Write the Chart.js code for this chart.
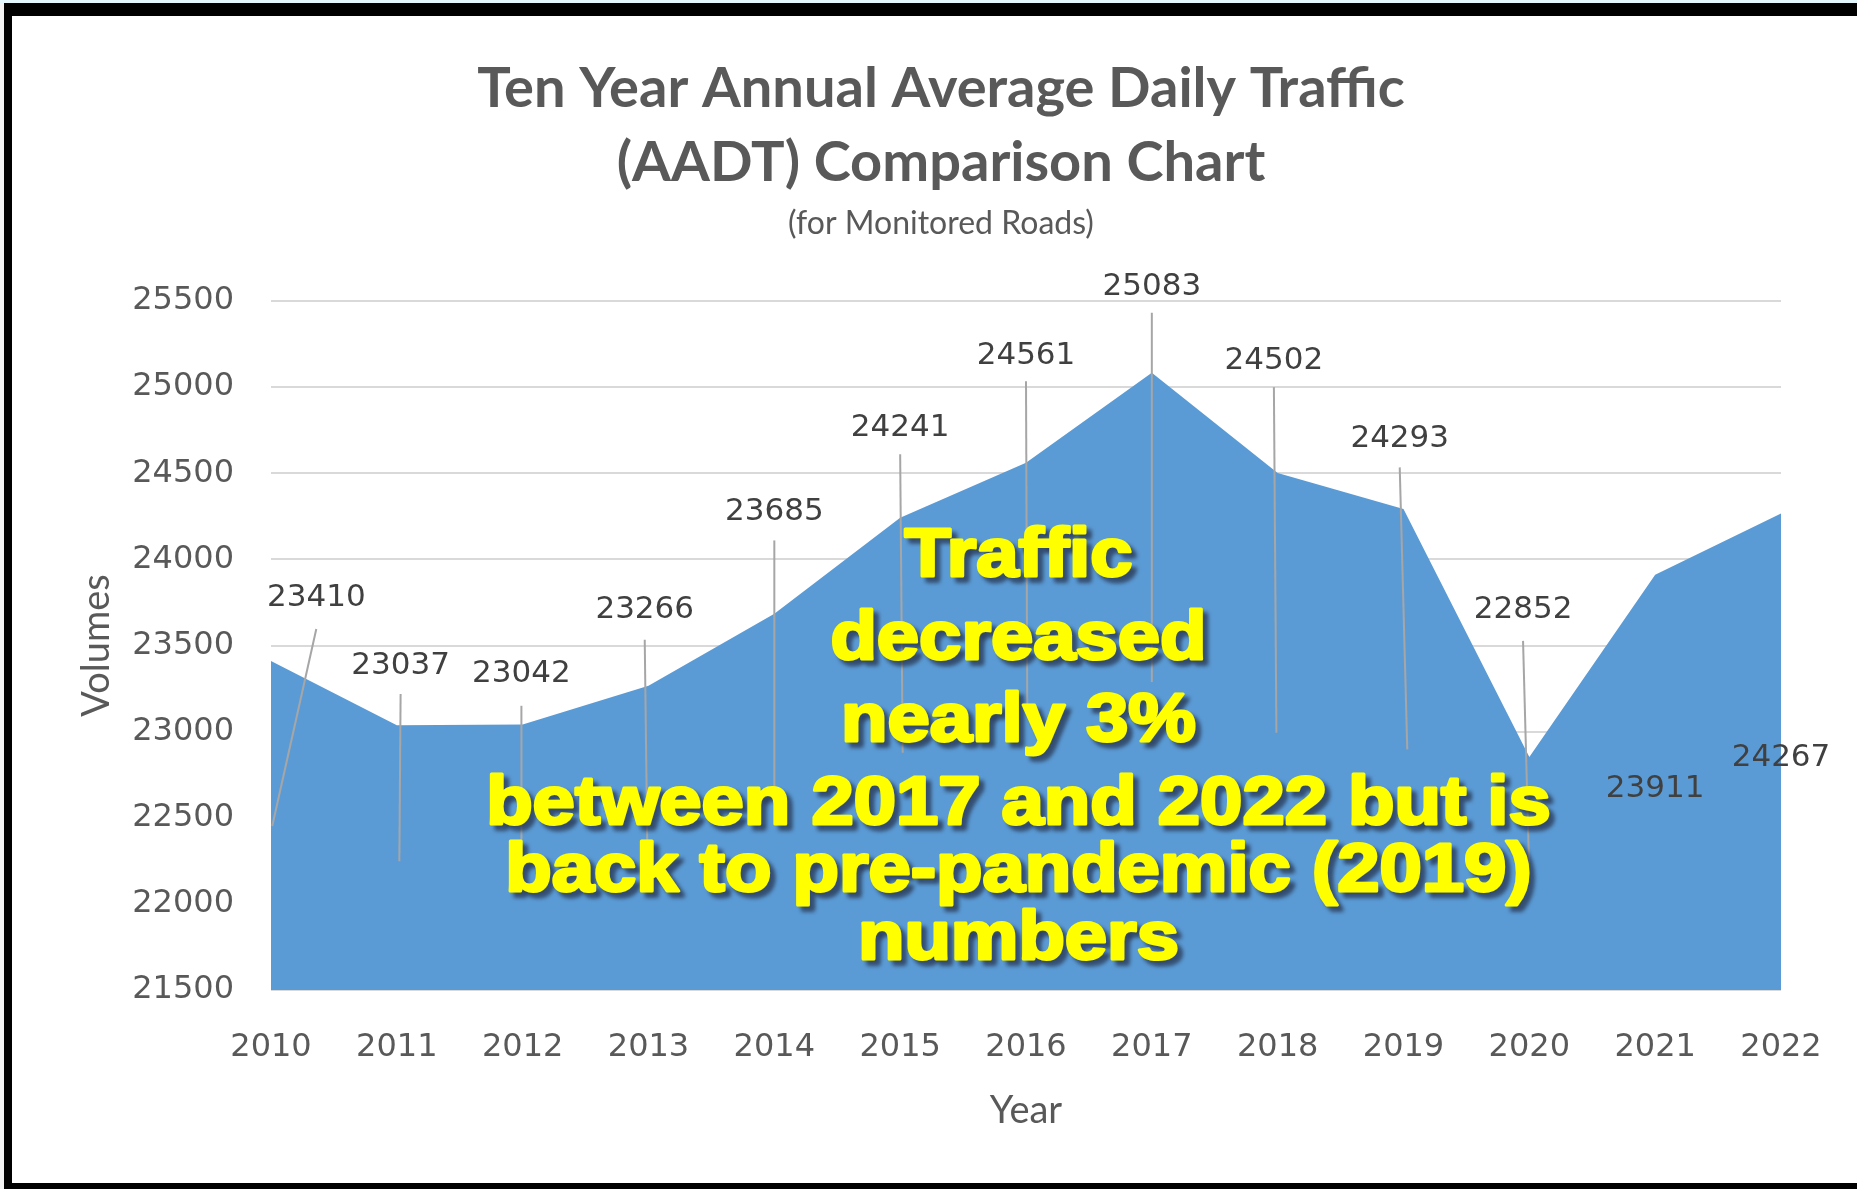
<!DOCTYPE html>
<html>
<head>
<meta charset="utf-8">
<script src="https://cdn.jsdelivr.net/npm/chart.js@4/dist/chart.umd.min.js"></script>
<style>
  html, body { margin: 0; padding: 0; background: #000; width: 1857px; height: 1189px; overflow: hidden; }
  .strip-top { position: absolute; left: 0; top: 0; width: 1857px; height: 3px; background: #e3f6fb; }
  .strip-left { position: absolute; left: 0; top: 3px; width: 4px; height: 1186px; background: #f2f2f2; }
  .panel { position: absolute; left: 12px; top: 16px; width: 1845px; height: 1167px; background: #fff; }
</style>
</head>
<body>
<div class="strip-top"></div>
<div class="strip-left"></div>
<div class="panel"><canvas id="aadtChart" width="1845" height="1167"></canvas></div>
<script>
// Data
const years = ["2010", "2011", "2012", "2013", "2014", "2015", "2016", "2017", "2018", "2019", "2020", "2021", "2022"];
const aadt = [23410, 23037, 23042, 23266, 23685, 24241, 24561, 25083, 24502, 24293, 22852, 23911, 24267];
const yTicks = [21500, 22000, 22500, 23000, 23500, 24000, 24500, 25000, 25500];

// Where Excel left the (moved) data labels, in axis units: category index / volume
const labelIdx = [0.36, 1.03, 1.99, 2.97, 4.0, 5.0, 6.0, 7.0, 7.97, 8.97, 9.95, 11.0, 12.0];
const labelVal = [23774, 23384, 23336, 23706, 24275, 24761, 25179, 25583, 25151, 24699, 23706, 22665, 22850];

// leader lines: [fromIdx, fromVal, toIdx, toVal], null where there is none
const leaders = [
  [0.36, 23596, 0.01, 22452],
  [1.03, 23219, 1.02, 22247],
  [1.99, 23150, 1.99, 22370],
  [2.97, 23534, 2.99, 22370],
  [4.0, 24110, 4.0, 22671],
  [5.0, 24610, 5.02, 22877],
  [6.0, 25034, 6.01, 23151],
  [7.0, 25432, 7.0, 23288],
  [7.97, 25000, 7.99, 22993],
  [8.97, 24534, 9.03, 22897],
  [9.95, 23527, 10.0, 22165],
  null,
  null,
];

// Callout text over the area
const noteLines = ["Traffic", "decreased", "nearly 3%", "between 2017 and 2022 but is", "back to pre-pandemic (2019)", "numbers"];
const noteVals = [24010, 23531, 23057, 22571, 22184, 21791];
const noteIdx = 5.94;

const labelPlugin = {
  id: "labelPlugin",
  afterDatasetsDraw(chart) {
    const ctx = chart.ctx;
    const xs = chart.scales.x;
    const ys = chart.scales.y;
    const px = (i) => xs.left + (xs.right - xs.left) * i / (years.length - 1);

    // leader lines
    ctx.save();
    ctx.strokeStyle = "#a6a6a6";
    ctx.lineWidth = 2;
    leaders.forEach((l) => {
      if (!l) return;
      ctx.beginPath();
      ctx.moveTo(px(l[0]), ys.getPixelForValue(l[1]));
      ctx.lineTo(px(l[2]), ys.getPixelForValue(l[3]));
      ctx.stroke();
    });
    ctx.restore();

    // data labels
    ctx.save();
    ctx.font = "31px 'DejaVu Sans'";
    ctx.fillStyle = "#404040";
    ctx.textAlign = "center";
    ctx.textBaseline = "middle";
    aadt.forEach((v, i) => {
      ctx.fillText(String(v), px(labelIdx[i]), ys.getPixelForValue(labelVal[i]));
    });
    ctx.restore();

    // yellow callout: shadow pass, then the text itself
    ctx.save();
    ctx.font = "bold 68px 'Liberation Sans'";
    const widest = Math.max(...noteLines.map((t) => ctx.measureText(t).width));
    const stretch = ((xs.right - xs.left) * 0.705) / widest;
    ctx.textAlign = "center";
    ctx.textBaseline = "middle";
    ctx.lineJoin = "round";
    ctx.lineWidth = 3;
    noteLines.forEach((t, i) => {
      const cx = px(noteIdx);
      const cy = ys.getPixelForValue(noteVals[i]);
      ctx.save();
      ctx.translate(cx + 5, cy + 5);
      ctx.scale(stretch, 1);
      ctx.filter = "blur(2px)";
      ctx.fillStyle = "rgba(35, 45, 70, 0.7)";
      ctx.strokeStyle = "rgba(35, 45, 70, 0.7)";
      ctx.strokeText(t, 0, 0);
      ctx.fillText(t, 0, 0);
      ctx.restore();
    });
    noteLines.forEach((t, i) => {
      const cx = px(noteIdx);
      const cy = ys.getPixelForValue(noteVals[i]);
      ctx.save();
      ctx.translate(cx, cy);
      ctx.scale(stretch, 1);
      ctx.fillStyle = "#ffff00";
      ctx.strokeStyle = "#ffff00";
      ctx.strokeText(t, 0, 0);
      ctx.fillText(t, 0, 0);
      ctx.restore();
    });
    ctx.restore();
  },
};

const ctx = document.getElementById("aadtChart").getContext("2d");
new Chart(ctx, {
  type: "line",
  data: {
    labels: years,
    datasets: [
      {
        label: "AADT",
        data: aadt,
        backgroundColor: "#5b9bd5",
        borderColor: "#5b9bd5",
        borderWidth: 0,
        pointRadius: 0,
        fill: "start",
        tension: 0,
      },
    ],
  },
  options: {
    responsive: false,
    animation: false,
    // left padding moves the title centre to where the original has it
    layout: { padding: { left: 89, right: 76, top: 0, bottom: 0 } },
    plugins: {
      legend: { display: false },
      tooltip: { enabled: false },
      title: {
        display: true,
        text: ["Ten Year Annual Average Daily Traffic", "(AADT) Comparison Chart"],
        color: "#595959",
        font: { family: "Lato", size: 56, weight: "bold", lineHeight: 74 / 56 },
        padding: { top: 36, bottom: 6 },
      },
      subtitle: {
        display: true,
        text: "(for Monitored Roads)",
        color: "#595959",
        font: { family: "Lato", size: 32, lineHeight: 36 / 32 },
        padding: { top: 0, bottom: 59 },
      },
    },
    scales: {
      x: {
        offset: false,
        grid: { display: false },
        border: { display: false },
        ticks: {
          color: "#595959",
          font: { family: "DejaVu Sans", size: 32 },
          padding: 30,
          maxRotation: 0,
          autoSkip: false,
        },
        title: {
          display: true,
          text: "Year",
          color: "#595959",
          font: { family: "Lato", size: 38 },
          padding: { top: 0, bottom: 49 },
        },
        afterFit: (scale) => {
          scale.height = 193;
        },
      },
      y: {
        min: yTicks[0],
        max: yTicks[yTicks.length - 1],
        afterBuildTicks: (scale) => {
          scale.ticks = yTicks.map((v) => ({ value: v }));
        },
        grid: { color: "#d9d9d9", lineWidth: 2, drawTicks: false },
        border: { display: false },
        ticks: {
          color: "#595959",
          font: { family: "DejaVu Sans", size: 32 },
          padding: 37,
          callback: (v) => String(v),
        },
        title: {
          display: true,
          text: "Volumes",
          color: "#595959",
          font: { family: "Lato", size: 38 },
          padding: { top: -27, bottom: 0 },
        },
        afterFit: (scale) => {
          scale.width = 170;
        },
      },
    },
  },
  plugins: [labelPlugin],
});
</script>
</body>
</html>
